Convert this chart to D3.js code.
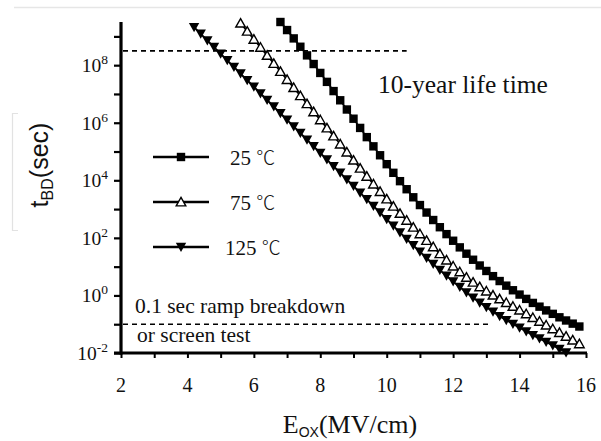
<!DOCTYPE html>
<html>
<head>
<meta charset="utf-8">
<script src="https://cdn.jsdelivr.net/npm/d3@7"></script>
<style>
  body { margin: 0; background: #fff; }
  svg { display: block; }
</style>
</head>
<body>
<svg id="chart" width="601" height="441"></svg>
<script>
// Oxide field grid (MV/cm) shared by all three temperature series
const fieldGrid = [
  4.2, 4.4, 4.6, 4.8, 5.0, 5.2, 5.4, 5.6, 5.8, 6.0,
  6.2, 6.4, 6.6, 6.8, 7.0, 7.2, 7.4, 7.6, 7.8, 8.0,
  8.2, 8.4, 8.6, 8.8, 9.0, 9.2, 9.4, 9.6, 9.8, 10.0,
  10.2, 10.4, 10.6, 10.8, 11.0, 11.2, 11.4, 11.6, 11.8, 12.0,
  12.2, 12.4, 12.6, 12.8, 13.0, 13.2, 13.4, 13.6, 13.8, 14.0,
  14.2, 14.4, 14.6, 14.8, 15.0, 15.2, 15.4, 15.6, 15.8
];

// log10 of time-to-breakdown (sec); null where the curve is off scale
const logT25 = [
  null, null, null, null, null, null, null, null, null, null,
  null, null, null, 9.50, 9.22, 8.93, 8.64, 8.34, 8.04, 7.73,
  7.42, 7.10, 6.78, 6.46, 6.14, 5.82, 5.50, 5.18, 4.87, 4.56,
  4.26, 3.97, 3.69, 3.41, 3.14, 2.88, 2.62, 2.37, 2.13, 1.90,
  1.67, 1.45, 1.24, 1.04, 0.85, 0.67, 0.50, 0.34, 0.18, 0.03,
  -0.12, -0.26, -0.39, -0.52, -0.64, -0.76, -0.87, -0.98, -1.08
];
const logT75 = [
  null, null, null, null, null, null, null, 9.46, 9.18, 8.90,
  8.62, 8.34, 8.06, 7.78, 7.50, 7.22, 6.94, 6.66, 6.38, 6.10,
  5.82, 5.54, 5.26, 4.98, 4.70, 4.42, 4.14, 3.87, 3.61, 3.35,
  3.10, 2.85, 2.61, 2.37, 2.14, 1.91, 1.69, 1.45, 1.23, 1.02,
  0.82, 0.63, 0.46, 0.30, 0.15, 0.01, -0.12, -0.25, -0.38, -0.51,
  -0.64, -0.77, -0.90, -1.03, -1.16, -1.29, -1.42, -1.55, -1.68
];
const logT125 = [
  9.32, 9.09, 8.86, 8.63, 8.40, 8.17, 7.94, 7.71, 7.48, 7.25,
  7.02, 6.79, 6.56, 6.33, 6.10, 5.87, 5.64, 5.41, 5.18, 4.95,
  4.72, 4.49, 4.26, 4.03, 3.80, 3.57, 3.34, 3.11, 2.88, 2.65,
  2.42, 2.19, 1.96, 1.74, 1.52, 1.30, 1.09, 0.88, 0.68, 0.48,
  0.29, 0.10, -0.08, -0.25, -0.41, -0.57, -0.72, -0.86, -0.99, -1.12,
  -1.25, -1.38, -1.50, -1.62, -1.74, -1.86, -1.98, null, null
];

const seriesNames = ["25 ", "75 ", "125 "];
const degreeSign = "\u2103";
const seriesMarkers = ["square", "triangleOpen", "triangleDown"];

// Axis ticks
const xTickValues = [2, 3, 4, 5, 6, 7, 8, 9, 10, 11, 12, 13, 14, 15, 16];
const xTickLabels = [2, 4, 6, 8, 10, 12, 14, 16];
const yTickExps = [-2, -1, 0, 1, 2, 3, 4, 5, 6, 7, 8, 9];
const yLabelExps = [-2, 0, 2, 4, 6, 8];

// Reference levels
const tenYearLife = 3.15e8;     // sec
const tenYearEndField = 10.6;   // MV/cm
const rampScreen = 0.1;         // sec
const rampEndField = 13.1;      // MV/cm

const svg = d3.select("#chart");
const serif = "'Liberation Serif', 'Times New Roman', serif";
const sans = "'Liberation Sans', Arial, sans-serif";
const ink = "#111";

const x = d3.scaleLinear().domain([2, 16]).range([121, 586]);
const y = d3.scaleLog().domain([1e-2, Math.pow(10, 9.5)]).range([353, 22]);

// faint page rules around the figure
svg.append("line").attr("x1", 14).attr("x2", 601).attr("y1", 7.5).attr("y2", 7.5)
  .attr("stroke", "#e6e6e6").attr("stroke-width", 1.5);
svg.append("path").attr("d", "M18,113.5 H12.5 V230.5 H18")
  .attr("fill", "none").attr("stroke", "#e2e2e2").attr("stroke-width", 1.2);

// y axis ticks
const yAxis = d3.axisLeft(y).tickValues(yTickExps.map(e => Math.pow(10, e)))
  .tickSize(7).tickFormat("");
const gy = svg.append("g").attr("transform", "translate(121,0)").call(yAxis);
gy.select(".domain").remove();
gy.selectAll(".tick line").attr("stroke", "#000").attr("stroke-width", 2.2);

// x axis ticks
const xAxis = d3.axisBottom(x).tickValues(xTickValues).tickSize(5).tickFormat("");
const gx = svg.append("g").attr("transform", "translate(0,353)").call(xAxis);
gx.select(".domain").remove();
gx.selectAll(".tick line").attr("stroke", "#000").attr("stroke-width", 2);

// axis lines
svg.append("line").attr("x1", 121).attr("x2", 121).attr("y1", y.range()[1]).attr("y2", 354.5)
  .attr("stroke", "#000").attr("stroke-width", 3.2);
svg.append("line").attr("x1", 114).attr("x2", x(16) + 1).attr("y1", 353).attr("y2", 353)
  .attr("stroke", "#000").attr("stroke-width", 3.2);

// y tick labels as powers of ten
yLabelExps.forEach(e => {
  const t = svg.append("text")
    .attr("x", 108).attr("y", y(Math.pow(10, e)) + 7)
    .attr("text-anchor", "end")
    .attr("font-family", serif).attr("font-size", 19.5).attr("fill", ink);
  t.append("tspan").text("10");
  t.append("tspan").attr("dy", -8).attr("font-size", 13.5).text(e);
});

// x tick labels
xTickLabels.forEach(v => {
  svg.append("text").attr("x", x(v)).attr("y", 392)
    .attr("text-anchor", "middle")
    .attr("font-family", serif).attr("font-size", 20).attr("fill", ink)
    .text(v);
});

// axis titles
const yTitle = svg.append("text")
  .attr("transform", "translate(48,165) rotate(-90)")
  .attr("text-anchor", "middle").attr("font-family", sans)
  .attr("font-size", 25).attr("fill", ink);
yTitle.append("tspan").text("t");
yTitle.append("tspan").attr("font-size", 16).attr("dy", 5).text("BD");
yTitle.append("tspan").attr("dy", -5).text("(sec)");

const xTitle = svg.append("text")
  .attr("x", 350).attr("y", 433)
  .attr("text-anchor", "middle").attr("font-family", serif)
  .attr("font-size", 26).attr("fill", ink);
xTitle.append("tspan").text("E");
xTitle.append("tspan").attr("font-size", 14).attr("dy", 4).attr("font-family", sans).text("OX");
xTitle.append("tspan").attr("dy", -4).text("(MV/cm)");

// reference dashed lines
svg.append("line")
  .attr("x1", x(2) + 2).attr("x2", x(tenYearEndField))
  .attr("y1", y(tenYearLife)).attr("y2", y(tenYearLife))
  .attr("stroke", "#000").attr("stroke-width", 1.6).attr("stroke-dasharray", "5,4");
svg.append("line")
  .attr("x1", x(2) + 2).attr("x2", x(rampEndField))
  .attr("y1", y(rampScreen)).attr("y2", y(rampScreen))
  .attr("stroke", "#000").attr("stroke-width", 1.6).attr("stroke-dasharray", "5,4");

svg.append("text").attr("x", 378).attr("y", 93)
  .attr("font-family", serif).attr("font-size", 25.5).attr("fill", ink)
  .text("10-year life time");
svg.append("text").attr("x", 135).attr("y", 313)
  .attr("font-family", serif).attr("font-size", 21.5).attr("fill", ink)
  .text("0.1 sec ramp breakdown");
svg.append("text").attr("x", 137).attr("y", 342)
  .attr("font-family", serif).attr("font-size", 21.5).attr("fill", ink)
  .text("or screen test");

// marker drawing
function drawMarker(g, kind, cx, cy, scale) {
  const s = scale || 1;
  if (kind === "square") {
    const h = 4.2 * s;
    g.append("rect").attr("x", cx - h).attr("y", cy - h)
      .attr("width", 2 * h).attr("height", 2 * h).attr("fill", "#000");
  } else if (kind === "triangleOpen") {
    const w = 4.8 * s, hh = 4.6 * s;
    g.append("path")
      .attr("d", `M${cx},${cy - hh} L${cx + w},${cy + hh * 0.85} L${cx - w},${cy + hh * 0.85} Z`)
      .attr("fill", "#fff").attr("stroke", "#000").attr("stroke-width", 1.4);
  } else {
    const w = 5.2 * s, hh = 5.0 * s;
    g.append("path")
      .attr("d", `M${cx - w},${cy - hh * 0.85} L${cx + w},${cy - hh * 0.85} L${cx},${cy + hh} Z`)
      .attr("fill", "#000");
  }
}

const allSeries = [logT25, logT75, logT125];
const line = d3.line()
  .defined(d => d.v !== null)
  .x(d => x(d.e))
  .y(d => y(Math.pow(10, d.v)));

allSeries.forEach((vals, i) => {
  const pts = fieldGrid.map((e, k) => ({ e: e, v: vals[k] }));
  const g = svg.append("g");
  g.append("path").datum(pts).attr("d", line)
    .attr("fill", "none").attr("stroke", "#000").attr("stroke-width", 1.8);
  pts.filter(d => d.v !== null).forEach(d => {
    drawMarker(g, seriesMarkers[i], x(d.e), y(Math.pow(10, d.v)));
  });
});

// legend
const legendY = [157, 202, 247];
const legendTextX = [230, 230, 225];
seriesNames.forEach((name, i) => {
  const g = svg.append("g");
  g.append("line").attr("x1", 153).attr("x2", 209)
    .attr("y1", legendY[i]).attr("y2", legendY[i])
    .attr("stroke", "#000").attr("stroke-width", 2.6);
  drawMarker(g, seriesMarkers[i], 181, legendY[i], 1.0);
  const t = g.append("text").attr("x", legendTextX[i]).attr("y", legendY[i] + 8)
    .attr("font-family", serif).attr("font-size", 21).attr("fill", ink);
  t.append("tspan").text(name);
  t.append("tspan").attr("font-family", "'Noto Sans CJK SC', serif")
    .attr("font-size", 19).attr("font-weight", 300).text(degreeSign);
});
</script>
</body>
</html>
